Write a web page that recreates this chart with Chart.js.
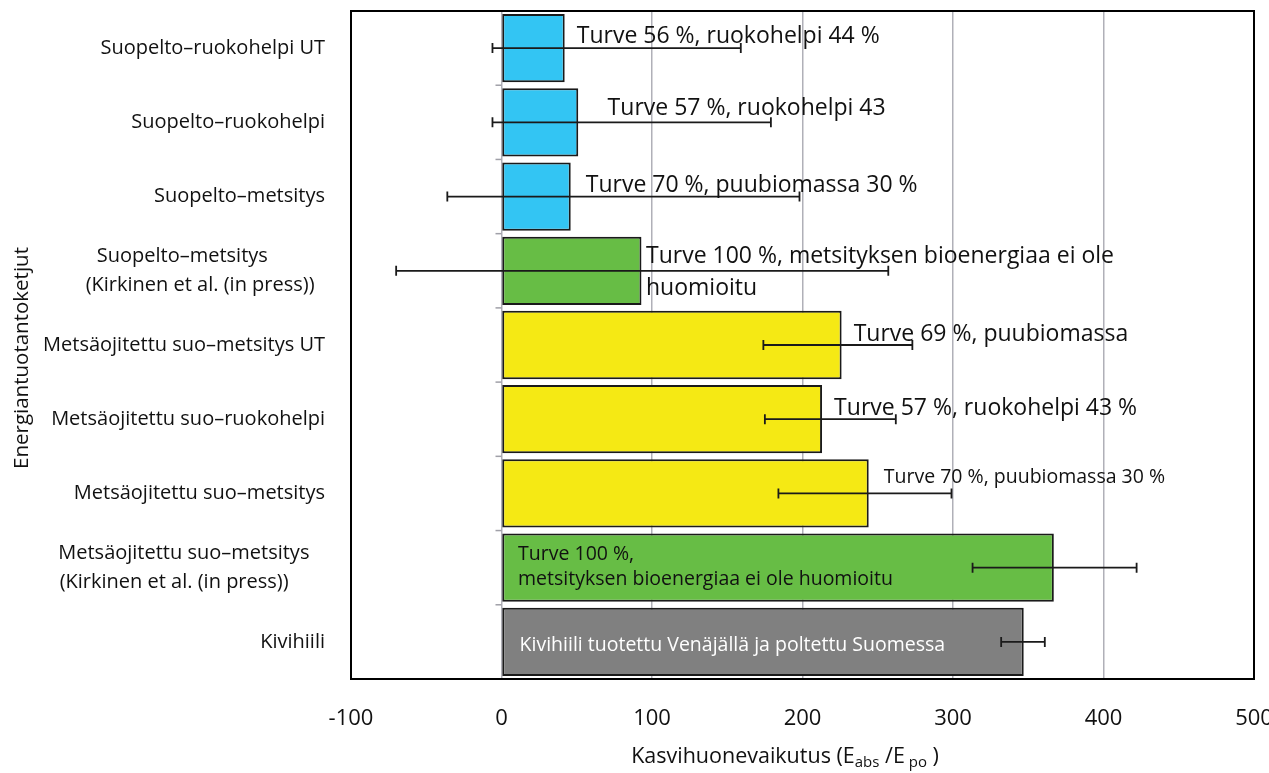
<!DOCTYPE html>
<html lang="fi">
  <head>
    <meta charset="UTF-8" />
    <title>Kasvihuonevaikutus</title>
    <style>
      * {
        margin: 0;
        padding: 0;
        box-sizing: border-box;
      }
      body {
        background: #fff;
      }
      .chartBox {
        width: 1269px;
        height: 773px;
      }
    </style>
  </head>
  <body>
    <div class="chartBox">
      <canvas id="myChart"></canvas>
    </div>

    <script src="https://cdn.jsdelivr.net/npm/chart.js"></script>

    <script>
      const NB = "\u00a0";
      const categories = [
        "Suopelto–ruokohelpi UT",
        "Suopelto–ruokohelpi",
        "Suopelto–metsitys",
        ["Suopelto–metsitys" + NB.repeat(11), "(Kirkinen et al. (in press))" + NB.repeat(2)],
        "Metsäojitettu suo–metsitys UT",
        "Metsäojitettu suo–ruokohelpi",
        "Metsäojitettu suo–metsitys",
        ["Metsäojitettu suo–metsitys" + NB.repeat(3), "(Kirkinen et al. (in press))" + NB.repeat(7)],
        "Kivihiili",
      ];
      const values = [42, 51, 46, 93, 226, 213, 244, 367, 347];
      const errLow = [-6, -6, -36, -70, 174, 175, 184, 313, 332];
      const errHigh = [159, 179, 198, 257, 273, 262, 299, 422, 361];
      const barColors = [
        "#33c5f3", "#33c5f3", "#33c5f3",
        "#67bd45",
        "#f5e914", "#f5e914", "#f5e914",
        "#67bd45",
        "#808080",
      ];
      const xTicks = [-100, 0, 100, 200, 300, 400, 500];
      const noteTexts = [
        ["Turve 56 %, ruokohelpi 44 %"],
        ["Turve 57 %, ruokohelpi 43"],
        ["Turve 70 %, puubiomassa 30 %"],
        ["Turve 100 %, metsityksen bioenergiaa ei ole", "huomioitu"],
        ["Turve 69 %, puubiomassa"],
        ["Turve 57 %, ruokohelpi 43 %"],
        ["Turve 70 %, puubiomassa 30 %"],
        ["Turve 100 %,", "metsityksen bioenergiaa ei ole huomioitu"],
        ["Kivihiili tuotettu Venäjällä ja poltettu Suomessa"],
      ];

      // where each note sits: x in data units, dy in px from bar centre
      const noteLayout = [
        { x: 50, dy: -12, size: 23, color: "#111" },
        { x: 70.5, dy: -14, size: 23, color: "#111" },
        { x: 56, dy: -11, size: 23, color: "#111" },
        { x: 96, dy: -14, size: 23, color: "#111", lh: 32 },
        { x: 234, dy: -11, size: 23, color: "#111" },
        { x: 221, dy: -11, size: 23, color: "#111" },
        { x: 254, dy: -16, size: 19.5, color: "#111" },
        { x: 11, dy: -13, size: 19.5, color: "#111", lh: 25 },
        { x: 12, dy: 4, size: 19.5, color: "#fff" },
      ];

      const FONT = "'Open Sans', sans-serif";

      const extras = {
        id: "extras",
        afterDatasetsDraw(chart) {
          const { ctx, chartArea, scales } = chart;
          const { x, y } = scales;
          ctx.save();

          // small ticks at the zero axis between categories
          ctx.strokeStyle = "#a0a0a8";
          ctx.lineWidth = 1.5;
          const x0 = x.getPixelForValue(0);
          const step = (chartArea.bottom - chartArea.top) / categories.length;
          for (let i = 0; i <= categories.length; i++) {
            const yy = chartArea.top + i * step;
            ctx.beginPath();
            ctx.moveTo(x0 - 6, yy);
            ctx.lineTo(x0, yy);
            ctx.stroke();
          }

          // error bars
          ctx.strokeStyle = "#1a1a1a";
          ctx.lineWidth = 1.8;
          values.forEach((v, i) => {
            const yc = y.getPixelForValue(i);
            const a = x.getPixelForValue(errLow[i]);
            const b = x.getPixelForValue(errHigh[i]);
            ctx.beginPath();
            ctx.moveTo(a, yc);
            ctx.lineTo(b, yc);
            ctx.moveTo(a, yc - 5);
            ctx.lineTo(a, yc + 5);
            ctx.moveTo(b, yc - 5);
            ctx.lineTo(b, yc + 5);
            ctx.stroke();
          });

          // frame round the plot
          ctx.strokeStyle = "#000";
          ctx.lineWidth = 2;
          ctx.strokeRect(
            chartArea.left,
            chartArea.top,
            chartArea.right - chartArea.left,
            chartArea.bottom - chartArea.top
          );
          ctx.restore();
        },
        afterDraw(chart) {
          const { ctx, chartArea, scales } = chart;
          const { x, y } = scales;
          ctx.save();
          ctx.textBaseline = "middle";
          ctx.textAlign = "left";

          noteTexts.forEach((lines, i) => {
            const L = noteLayout[i];
            ctx.font = L.size + "px " + FONT;
            ctx.fillStyle = L.color;
            const px = x.getPixelForValue(L.x);
            const yc = y.getPixelForValue(i) + L.dy;
            lines.forEach((t, k) => {
              ctx.fillText(t, px, yc + k * (L.lh || 0));
            });
          });

          // x axis title with subscripts
          const parts = [
            ["Kasvihuonevaikutus (E", 21.5, 0],
            ["abs", 15, 6],
            [" /E", 21.5, 0],
            [" po", 15, 6],
            [" )", 21.5, 0],
          ];
          let total = 0;
          parts.forEach((p) => {
            ctx.font = p[1] + "px " + FONT;
            total += ctx.measureText(p[0]).width;
          });
          let cx = 785 - total / 2;
          ctx.fillStyle = "#111";
          parts.forEach((p) => {
            ctx.font = p[1] + "px " + FONT;
            ctx.fillText(p[0], cx, 757 + p[2]);
            cx += ctx.measureText(p[0]).width;
          });

          // y axis title
          ctx.translate(22, 358);
          ctx.rotate(-Math.PI / 2);
          ctx.textAlign = "center";
          ctx.font = "20.5px " + FONT;
          ctx.fillText("Energiantuotantoketjut", 0, 0);
          ctx.restore();
        },
      };

      const data = {
        labels: categories,
        datasets: [
          {
            label: "Kasvihuonevaikutus",
            data: values,
            backgroundColor: barColors,
            borderColor: "#1a1a1a",
            borderWidth: 2,
            borderSkipped: false,
            barPercentage: 0.92,
            categoryPercentage: 1,
          },
        ],
      };

      const config = {
        type: "bar",
        data: data,
        options: {
          indexAxis: "y",
          responsive: true,
          maintainAspectRatio: false,
          animation: false,
          layout: {
            padding: { top: 11, right: 15, left: 0, bottom: 0 },
          },
          plugins: {
            legend: { display: false },
            tooltip: { enabled: false },
          },
          scales: {
            x: {
              min: -100,
              max: 500,
              afterBuildTicks: (axis) => {
                axis.ticks = xTicks.map((v) => ({ value: v }));
              },
              afterFit: (axis) => {
                axis.height = 94;
                axis.paddingLeft = 0;
                axis.paddingRight = 0;
              },
              grid: {
                color: "#b0b0b8",
                lineWidth: 1.5,
                drawTicks: false,
              },
              border: { display: false },
              ticks: {
                padding: 27,
                color: "#111",
                font: { family: FONT, size: 22 },
              },
            },
            y: {
              afterFit: (axis) => {
                axis.width = 351;
                axis.paddingTop = 0;
                axis.paddingBottom = 0;
              },
              grid: { display: false, drawTicks: false },
              border: { display: false },
              ticks: {
                padding: 26,
                color: "#111",
                font: { family: FONT, size: 20, lineHeight: 1.45 },
              },
            },
          },
        },
        plugins: [extras],
      };

      const myChart = new Chart(document.getElementById("myChart"), config);
    </script>
  </body>
</html>
